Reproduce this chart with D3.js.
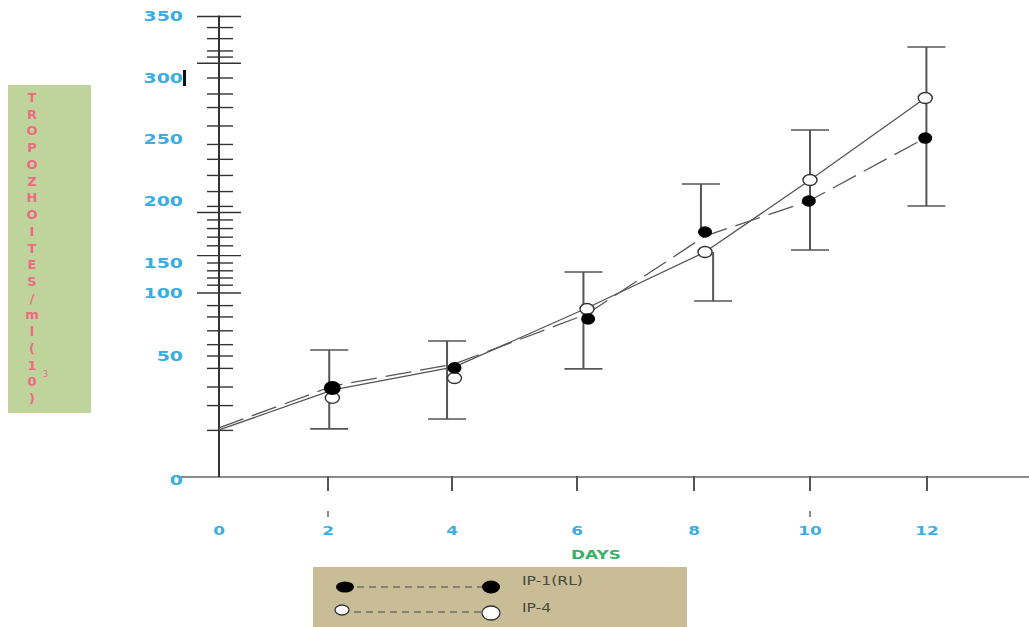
<!DOCTYPE html>
<html>
<head>
<meta charset="utf-8">
<script src="https://cdnjs.cloudflare.com/ajax/libs/d3/7.8.5/d3.min.js"></script>
<style>
  body { margin: 0; background: #fff; }
  svg { display: block; }
</style>
</head>
<body>
<script>
// axis values as drawn in the figure (the y axis is not evenly spaced)
var dayTicks = [0, 2, 4, 6, 8, 10, 12]
var yLabels = [0, 50, 100, 150, 200, 250, 300, 350]
var yMajorTicks = [350, 312, 191, 156, 100]
var yMinorTicks = [341, 332, 322, 317, 300, 287, 276, 261, 246, 234, 221, 208, 196, 185, 178, 171, 164,
                   150, 137, 125, 113, 90, 81, 70, 59, 50, 45, 37.5, 30, 20]

// points (plotted slightly off the day ticks in the original)
var ip1Days = [2.07, 4.04, 6.19, 8.19, 9.98, 11.97]
var ip1Vals = [37.1, 45.2, 79.4, 175.2, 200.4, 251.2]
var ip4Days = [2.07, 4.04, 6.17, 8.19, 10, 11.97]
var ip4Vals = [33.1, 41.1, 87.3, 158.9, 217.3, 283.7]

// trend lines
var ip1LineDays = [0, 2.08, 4.04, 6.17, 8.19, 9.98, 11.97]
var ip1LineVals = [21, 37.9, 46.8, 83.3, 171.9, 200.4, 251.2]
var ip4LineDays = [0, 2.08, 4.04, 6.17, 8.19, 10, 11.97]
var ip4LineVals = [20.2, 36.3, 45.6, 88.1, 158.9, 217.3, 283.7]

// error bars; at day 8 the bar is split: upper half from the IP-1 point, lower half from the IP-4 point
var errDays = [2.02, 3.92, 6.11, 8.12, 8.33, 10, 11.99]
var errHi = [54.8, 61.9, 135, 214.1, 158.9, 257.7, 325.2]
var errLo = [20.6, 24.6, 44.8, 175.2, 93.7, 160.6, 196.3]
var errCaps = ["both", "both", "both", "hi", "lo", "both", "both"]

var titleLetters = ["T","R","O","P","O","Z","H","O","I","T","E","S","/","m","l","(","1","0",")"]

var W = 1029, H = 627
var axisY = 477
var svg = d3.select("body").append("svg").attr("width", W).attr("height", H)

var x = d3.scaleLinear().domain(dayTicks).range([219, 328, 452, 577, 694, 810, 927])
var y = d3.scaleLinear().domain(yLabels).range([480, 356, 293, 263, 201.5, 139.5, 78, 16.5])

var blue = "#3aaee2"

// y title box
svg.append("rect").attr("x", 8).attr("y", 85).attr("width", 83).attr("height", 328).attr("fill", "#bfd49b")
var ty = d3.scaleLinear().domain([0, titleLetters.length - 1]).range([97, 398])
svg.selectAll(".tl").data(titleLetters).enter().append("text")
   .attr("x", 32).attr("y", (d, i) => ty(i) + 5)
   .attr("text-anchor", "middle")
   .attr("font-family", "DejaVu Sans").attr("font-weight", "bold").attr("font-size", 13)
   .attr("fill", "#ef6a86").text(d => d)
svg.append("text").attr("x", 43).attr("y", 377)
   .attr("font-family", "DejaVu Sans").attr("font-size", 8).attr("fill", "#ef6a86").text("3")

// axes
svg.append("line").attr("x1", 177).attr("x2", W).attr("y1", axisY).attr("y2", axisY)
   .attr("stroke", "#666").attr("stroke-width", 1.6)
svg.append("line").attr("x1", x(0)).attr("x2", x(0)).attr("y1", y(350) - 1).attr("y2", axisY)
   .attr("stroke", "#333").attr("stroke-width", 2)

svg.selectAll(".ymaj").data(yMajorTicks).enter().append("line")
   .attr("x1", x(0) - 22).attr("x2", x(0) + 22).attr("y1", d => y(d)).attr("y2", d => y(d))
   .attr("stroke", "#333").attr("stroke-width", 1.4)
svg.selectAll(".ymin").data(yMinorTicks).enter().append("line")
   .attr("x1", x(0) - 12).attr("x2", x(0) + 14).attr("y1", d => y(d)).attr("y2", d => y(d))
   .attr("stroke", "#333").attr("stroke-width", 1.4)

svg.selectAll(".ylab").data(yLabels).enter().append("text")
   .attr("transform", d => "translate(183," + (y(d) + 4.8) + ") scale(1.4,1)")
   .attr("text-anchor", "end")
   .attr("font-family", "DejaVu Sans").attr("font-weight", "bold").attr("font-size", 13.5)
   .attr("fill", blue).text(d => d)
// little black mark beside the 300 label
svg.append("rect").attr("x", 183).attr("y", y(300) - 8).attr("width", 3).attr("height", 16).attr("fill", "#111")

svg.selectAll(".xt").data(dayTicks.slice(1)).enter().append("line")
   .attr("x1", d => x(d)).attr("x2", d => x(d)).attr("y1", axisY - 1).attr("y2", axisY + 14)
   .attr("stroke", "#555").attr("stroke-width", 2)
svg.selectAll(".xs").data([2, 10]).enter().append("line")
   .attr("x1", d => x(d)).attr("x2", d => x(d)).attr("y1", axisY + 34).attr("y2", axisY + 40)
   .attr("stroke", "#666").attr("stroke-width", 1.5)

svg.selectAll(".xlab").data(dayTicks).enter().append("text")
   .attr("transform", d => "translate(" + x(d) + ",535) scale(1.3,1)")
   .attr("text-anchor", "middle")
   .attr("font-family", "DejaVu Sans").attr("font-weight", "bold").attr("font-size", 13)
   .attr("fill", blue).text(d => d)

svg.append("text").attr("transform", "translate(596,559) scale(1.3,1)")
   .attr("text-anchor", "middle")
   .attr("font-family", "DejaVu Sans").attr("font-weight", "bold").attr("font-size", 13)
   .attr("fill", "#34b36b").text("DAYS")

// error bars
var errs = errDays.map((d, i) => ({day: d, hi: errHi[i], lo: errLo[i], caps: errCaps[i]}))
var eb = svg.selectAll(".eb").data(errs).enter().append("g").attr("stroke", "#555")
eb.append("line").attr("x1", d => x(d.day)).attr("x2", d => x(d.day))
  .attr("y1", d => y(d.hi)).attr("y2", d => y(d.lo)).attr("stroke-width", 2)
eb.filter(d => d.caps != "lo").append("line").attr("x1", d => x(d.day) - 19).attr("x2", d => x(d.day) + 19)
  .attr("y1", d => y(d.hi)).attr("y2", d => y(d.hi)).attr("stroke-width", 1.6)
eb.filter(d => d.caps != "hi").append("line").attr("x1", d => x(d.day) - 19).attr("x2", d => x(d.day) + 19)
  .attr("y1", d => y(d.lo)).attr("y2", d => y(d.lo)).attr("stroke-width", 1.6)

// lines
var line = d3.line().x(d => x(d[0])).y(d => y(d[1]))
svg.append("path").attr("d", line(d3.zip(ip4LineDays, ip4LineVals)))
   .attr("fill", "none").attr("stroke", "#555").attr("stroke-width", 1.3)
svg.append("path").attr("d", line(d3.zip(ip1LineDays, ip1LineVals)))
   .attr("fill", "none").attr("stroke", "#555").attr("stroke-width", 1.3)
   .attr("stroke-dasharray", "26,9")

// points
svg.selectAll(".p4").data(d3.zip(ip4Days, ip4Vals)).enter().append("ellipse")
   .attr("cx", d => x(d[0])).attr("cy", d => y(d[1])).attr("rx", 7).attr("ry", 5.5)
   .attr("fill", "#fff").attr("stroke", "#333").attr("stroke-width", 1.4)
svg.selectAll(".p1").data(d3.zip(ip1Days, ip1Vals)).enter().append("ellipse")
   .attr("cx", d => x(d[0])).attr("cy", d => y(d[1]))
   .attr("rx", (d, i) => i == 0 ? 8.5 : 7).attr("ry", (d, i) => i == 0 ? 7 : 5.8)
   .attr("fill", "#000")

// legend
var lg = svg.append("g")
lg.append("rect").attr("x", 313).attr("y", 567).attr("width", 374).attr("height", 60).attr("fill", "#c8bd97")
lg.append("line").attr("x1", 345).attr("x2", 491).attr("y1", 587).attr("y2", 587)
  .attr("stroke", "#444").attr("stroke-width", 1.2).attr("stroke-dasharray", "7,5")
lg.append("line").attr("x1", 342).attr("x2", 491).attr("y1", 612).attr("y2", 612)
  .attr("stroke", "#444").attr("stroke-width", 1.2).attr("stroke-dasharray", "7,5")
lg.append("ellipse").attr("cx", 345).attr("cy", 587).attr("rx", 9).attr("ry", 5.5).attr("fill", "#000")
lg.append("ellipse").attr("cx", 491).attr("cy", 587).attr("rx", 9).attr("ry", 6.5).attr("fill", "#000")
lg.append("ellipse").attr("cx", 342).attr("cy", 610).attr("rx", 7).attr("ry", 5)
  .attr("fill", "#fff").attr("stroke", "#333").attr("stroke-width", 1.3)
lg.append("ellipse").attr("cx", 491).attr("cy", 613).attr("rx", 9).attr("ry", 7)
  .attr("fill", "#fff").attr("stroke", "#333").attr("stroke-width", 1.3)
lg.append("text").attr("transform", "translate(522,585) scale(1.25,1)")
  .attr("font-family", "DejaVu Sans").attr("font-size", 12.5)
  .attr("fill", "#4a4a3a").text("IP-1(RL)")
lg.append("text").attr("transform", "translate(522,612) scale(1.25,1)")
  .attr("font-family", "DejaVu Sans").attr("font-size", 12.5)
  .attr("fill", "#4a4a3a").text("IP-4")
</script>
</body>
</html>
